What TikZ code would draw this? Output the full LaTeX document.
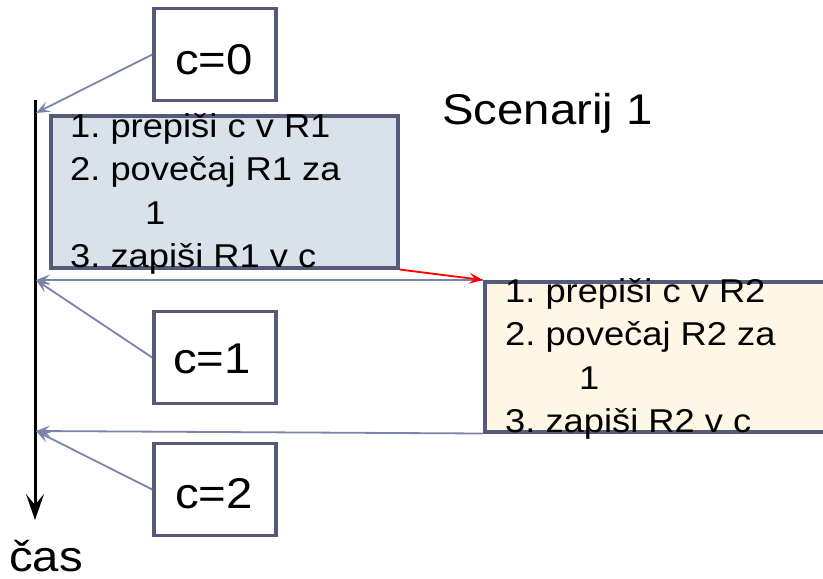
\documentclass[tikz,border=0pt]{standalone}
\usepackage{fontspec}
\setmainfont[FakeStretch=1.1]{Liberation Sans}
\usetikzlibrary{arrows.meta}
\definecolor{frame}{RGB}{84,90,120}
\definecolor{link}{RGB}{122,132,170}
\definecolor{stepone}{RGB}{217,226,235}
\definecolor{steptwo}{RGB}{255,247,229}
\frenchspacing
\begin{document}
\begin{tikzpicture}[x=1pt,y=-1pt,
  valbox/.style={draw=frame,line width=3.5pt,fill=white,rectangle,inner sep=0pt,
    minimum width=122pt,minimum height=92pt},
  stepbox/.style={draw=frame,line width=3.5pt,rectangle,inner sep=0pt,anchor=north west},
  bigtxt/.style={font=\fontsize{43}{50}\selectfont,inner sep=0pt,anchor=base},
  listtxt/.style={font=\fontsize{33}{43.5}\selectfont,inner sep=0pt,anchor=base west,align=left},
  linkarrow/.style={draw=link,line width=1.8pt,-{Stealth[length=14pt,width=11pt,inset=6pt]}},
]
\useasboundingbox (0,0) rectangle (823,579);

% time axis
\coordinate (axtop) at (35,100);
\coordinate (axbot) at (35,520);
\coordinate (t0) at (36,113);
\coordinate (t1) at (36,280);
\coordinate (t2) at (36,431);
\draw[line width=3pt,-{Stealth[length=26pt,width=18pt,inset=11pt]}] (axtop) -- (axbot);
\node[font=\fontsize{43}{50}\selectfont,inner sep=0pt,anchor=base west] (cas) at (9,571) {čas};

% title
\node[font=\fontsize{43}{50}\selectfont,inner sep=0pt,anchor=base west] (title) at (442,124) {Scenarij 1};

% first thread (text block anchored at the baseline of its last line)
\node[stepbox,fill=stepone,minimum width=347pt,minimum height=152pt] (s1) at (49,114) {};
\node[listtxt] (s1txt) at (70,267.5) {1. prepiši c v R1\\2. povečaj R1 za\\\hspace*{75pt}1\\3. zapiši R1 v c};

% second thread
\node[stepbox,fill=steptwo,minimum width=360pt,minimum height=150pt] (s2) at (483,280) {};
\node[listtxt] (s2txt) at (505,432.5) {1. prepiši c v R2\\2. povečaj R2 za\\\hspace*{74pt}1\\3. zapiši R2 v c};

% values of c
\node[valbox] (c0) at (215,54.5) {};
\node[bigtxt] (c0txt) at (214,74) {c=0};
\node[valbox] (c1) at (215,357.5) {};
\node[bigtxt] (c1txt) at (212,373) {c=1};
\node[valbox] (c2) at (215,489.5) {};
\node[bigtxt] (c2txt) at (214,508) {c=2};

% connectors
\draw[linkarrow] (c0.west) -- (t0);
\draw[linkarrow] (c1.west) -- (t1);
\draw[linkarrow] (c2.west) -- (t2);
\draw[linkarrow] (s2.north west) -- (t1);
\draw[linkarrow] (s2.south west) -- (t2);
\draw[red,line width=1.8pt,-{Stealth[length=14pt,width=11pt,inset=6pt]}] (s1.south east) -- (s2.north west);
\end{tikzpicture}
\end{document}
